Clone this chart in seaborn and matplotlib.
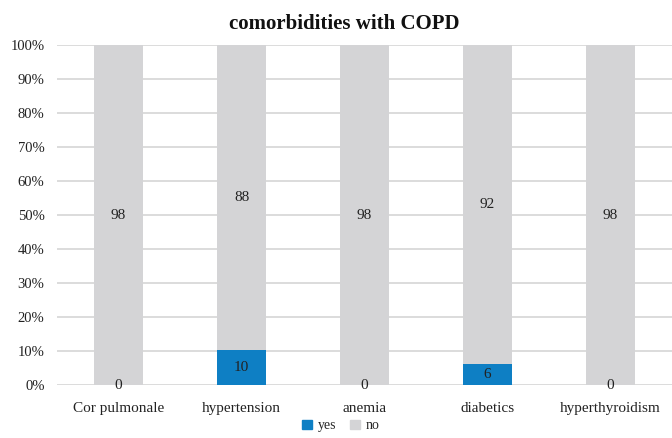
import numpy as np
import pandas as pd
import seaborn as sns
from matplotlib import pyplot as plt
from matplotlib.ticker import PercentFormatter
from matplotlib.patches import Patch

categories = ["Cor pulmonale", "hypertension", "anemia", "diabetics", "hyperthyroidism"]
yes_counts = [0, 10, 0, 6, 0]
no_counts = [98, 88, 98, 92, 98]

BLUE = "#0E7FC4"
GREY = "#D4D4D6"

totals = np.array(yes_counts) + np.array(no_counts)
yes_pct = np.array(yes_counts) / totals * 100
no_pct = np.array(no_counts) / totals * 100

df = pd.DataFrame({"category": categories,
                   "yes": yes_pct,
                   "total": yes_pct + no_pct})

sns.set_theme(style="white")
plt.rcParams["font.family"] = ["Liberation Serif", "DejaVu Serif"]

fig = plt.figure(figsize=(6.72, 4.38), dpi=100)
ax = fig.add_axes([0.085, 0.121, 0.915, 0.776])

sns.barplot(data=df, x="category", y="total", color=GREY, width=0.4,
            saturation=1, linewidth=0, ax=ax, zorder=2)
sns.barplot(data=df, x="category", y="yes", color=BLUE, width=0.4,
            saturation=1, linewidth=0, ax=ax, zorder=3)

for i in range(len(categories)):
    ax.text(i, yes_pct[i] / 2, str(yes_counts[i]), ha="center", va="center",
            fontsize=11, color="#222222", zorder=4)
    ax.text(i, yes_pct[i] + no_pct[i] / 2, str(no_counts[i]), ha="center",
            va="center", fontsize=11, color="#222222", zorder=4)

ax.set_ylim(0, 100)
ax.set_yticks(np.arange(0, 101, 10))
ax.yaxis.set_major_formatter(PercentFormatter(decimals=0))
ax.grid(axis="y", color="#D9D9D9", linewidth=1.3, zorder=0)
ax.set_axisbelow(True)
for s in ax.spines.values():
    s.set_visible(False)
ax.tick_params(axis="x", length=0, labelsize=11, colors="#222222", pad=12)
ax.tick_params(axis="y", length=0, labelsize=10.5, colors="#222222", pad=9)
ax.set_xlabel("")
ax.set_ylabel("")
ax.set_xlim(-0.5, len(categories) - 0.5)

fig.text(0.513, 0.945, "comorbidities with COPD", fontsize=15, fontweight="bold",
         color="#111111", ha="center", va="center")

handles = [Patch(color=BLUE, label="yes"), Patch(color=GREY, label="no")]
fig.legend(handles=handles, loc="center", bbox_to_anchor=(0.507, 0.028),
           ncol=2, frameon=False, fontsize=10, handlelength=0.7,
           handleheight=0.7, handletextpad=0.4, columnspacing=1.0,
           borderpad=0.2)

fig.savefig("out.png", dpi=100)
